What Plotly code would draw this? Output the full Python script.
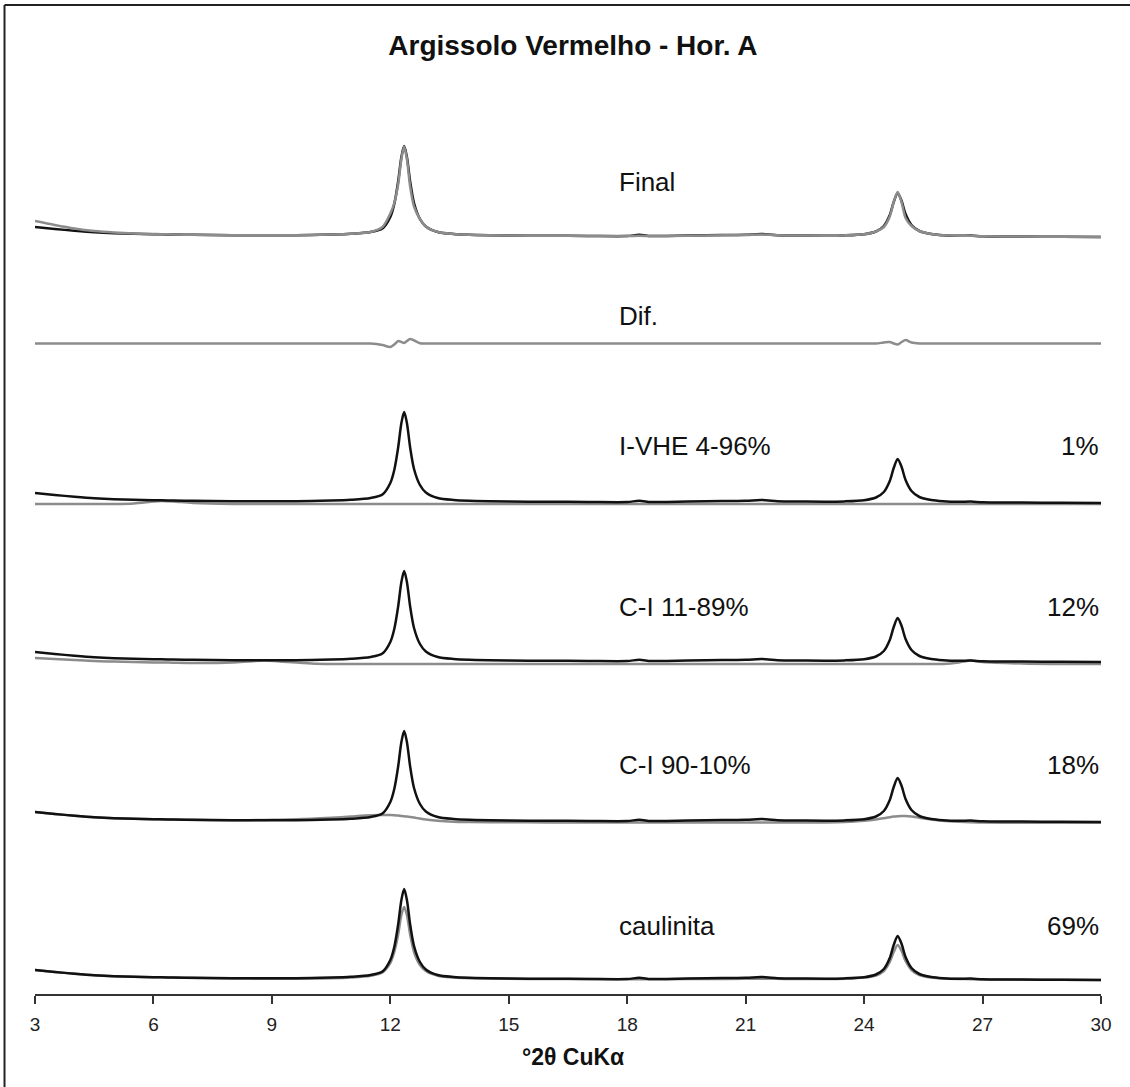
import plotly.graph_objects as go

# 2-theta grid (degrees, Cu K-alpha)
two_theta = [3, 3.5, 4, 4.5, 5, 5.5, 6, 6.2, 6.5, 7,
             8, 8.4, 8.8, 9.2, 10, 10.5, 11, 11.5, 11.8, 12.0,
             12.1, 12.2, 12.28, 12.35, 12.42, 12.5, 12.6, 12.75, 12.9, 13.2,
             13.6, 14, 15, 16, 17, 18, 18.3, 18.6, 19, 20,
             21, 21.4, 21.8, 22, 23, 23.5, 24, 24.3, 24.5, 24.65,
             24.75, 24.85, 24.95, 25.05, 25.2, 25.4, 25.7, 26, 26.4, 26.7,
             27, 28, 29, 30]

# observed pattern (relative intensity above background at 30 deg)
observed = [10, 8, 6.3, 4.8, 3.8, 3.2, 2.8, 2.7, 2.5, 2.2,
            1.8, 1.8, 1.8, 1.8, 2, 2.4, 3.2, 5, 8.5, 20,
            33, 56, 80, 91, 80, 56, 34, 18, 10.5, 5,
            3, 2.2, 1.5, 1.2, 1.1, 1, 2.2, 1, 1.1, 1.8,
            2.2, 3, 1.8, 1.6, 1.3, 1.6, 2.8, 5.5, 11, 22,
            35, 44, 36, 23, 12, 6, 3, 1.8, 1.2, 1.4,
            0.8, 0.4, 0.2, 0]

# calculated (fitted) pattern
calculated = [16, 12, 8.5, 6, 4.5, 3.5, 3, 2.8, 2.6, 2.2,
              1.8, 1.8, 1.8, 1.8, 2, 2.4, 3.2, 5, 10, 23.5,
              34, 53, 78, 90.5, 78, 51, 30.5, 18, 10.5, 5,
              3, 2.2, 1.5, 1.2, 1.1, 1, 1.2, 1, 1.1, 1.6,
              2, 2.4, 1.8, 1.6, 1.3, 1.6, 2.8, 5.5, 10, 20.5,
              35, 45, 34.5, 19, 11, 6, 3, 1.8, 1.2, 1.2,
              0.8, 0.4, 0.2, 0]

# difference curve
difference = [0, 0, 0, 0, 0, 0, 0, 0, 0, 0,
              0, 0, 0, 0, 0, 0, 0, 0, -1.5, -3.5,
              -1, 2.5, 1.5, 0.5, 2.5, 4.5, 3, 0.3, 0, 0,
              0, 0, 0, 0, 0, 0, 0, 0, 0, 0,
              0, 0, 0, 0, 0, 0, 0, 0, 1, 1.5,
              0, -1, 1.5, 3.5, 1, 0, 0, 0, 0, 0,
              0, 0, 0, 0]

# fitted phase contributions
i_vhe_4_96 = [-1, -1, -1, -1, -1, -0.5, 1.5, 2, 1.5, 0,
              -1, -1, -1, -1, -1, -1, -1, -1, -1, -1,
              -1, -1, -1, -1, -1, -1, -1, -1, -1, -1,
              -1, -1, -1, -1, -1, -1, -1, -1, -1, -1,
              -1, -1, -1, -1, -1, -1, -1, -1, -1, -1,
              -1, -1, -1, -1, -1, -1, -1, -1, -1, -1,
              -1, -1, -1, -1]

c_i_11_89 = [4, 3, 2, 1, 0.5, 0, -0.5, -0.5, -0.7, -1,
             -0.5, 0.5, 1.5, 0.5, -1.5, -2, -2, -2, -2, -2,
             -2, -2, -2, -2, -2, -2, -2, -2, -2, -2,
             -2, -2, -2, -2, -2, -2, -2, -2, -2, -2,
             -2, -2, -2, -2, -2, -2, -2, -2, -2, -2,
             -2, -2, -2, -2, -2, -2, -2, -2, -0.5, 1.5,
             0, -1.5, -2, -2]

c_i_90_10 = [10, 8, 6.3, 4.8, 3.8, 3.2, 2.7, 2.6, 2.4, 2,
             1.7, 1.8, 2, 2.3, 3.2, 4.2, 5.5, 6.7, 7, 6.9,
             6.7, 6.4, 6.1, 5.8, 5.4, 5, 4.4, 3.4, 2.5, 1.2,
             0.3, 0, -0.3, -0.4, -0.5, -0.5, -0.5, -0.5, -0.5, -0.5,
             -0.5, -0.5, -0.5, -0.5, -0.4, 0, 1.3, 2.6, 3.8, 4.8,
             5.4, 5.8, 6, 6, 5.5, 4.3, 2.5, 1.2, 0.2, -0.3,
             -0.5, -0.7, -0.8, -0.8]

caulinita = [10, 8, 6.3, 4.8, 3.8, 3.2, 2.8, 2.7, 2.4, 2,
             1.5, 1.4, 1.3, 1.3, 1.4, 1.7, 2.5, 4.2, 7.5, 17,
             28, 46, 65, 73, 65, 46, 28, 15, 9, 4.3,
             2.5, 1.8, 1.2, 1, 0.9, 0.8, 0.8, 0.8, 0.8, 1,
             1.2, 1.3, 1.2, 1.1, 1, 1.3, 2.4, 4.5, 9, 18,
             28, 35, 29, 19, 10, 5, 2.5, 1.5, 1, 0.8,
             0.6, 0.3, 0.2, 0]

# panel labels and fitted proportions
panel_names = ["Final", "Dif.", "I-VHE 4-96%", "C-I 11-89%", "C-I 90-10%", "caulinita"]
proportions = ["", "", "1%", "12%", "18%", "69%"]

x_ticks = [3, 6, 9, 12, 15, 18, 21, 24, 27, 30]

# vertical stacking of the panels
offsets = [757, 650.5, 491, 332, 172, 14]
label_y = [812, 678, 548, 387, 229, 68]

BLACK = "#111111"
GRAY = "#8c8c8c"
LW = 2.5
FONT = "Liberation Sans, Arial, sans-serif"


def shifted(values, off):
    return [v + off for v in values]


fig = go.Figure()
line_kw = dict(mode="lines", line_shape="spline", showlegend=False, hoverinfo="skip")

# Final: observed (black) and calculated (gray)
fig.add_trace(go.Scatter(x=two_theta, y=shifted(observed, offsets[0]),
                         line=dict(color=BLACK, width=LW, smoothing=0.8), **line_kw))
fig.add_trace(go.Scatter(x=two_theta, y=shifted(calculated, offsets[0]),
                         line=dict(color=GRAY, width=LW, smoothing=0.8), **line_kw))

# Difference
fig.add_trace(go.Scatter(x=two_theta, y=shifted(difference, offsets[1]),
                         line=dict(color=GRAY, width=LW, smoothing=0.8), **line_kw))

# Phase panels: component (gray) under the observed pattern (black)
components = [i_vhe_4_96, c_i_11_89, c_i_90_10, caulinita]
for comp, off in zip(components, offsets[2:]):
    fig.add_trace(go.Scatter(x=two_theta, y=shifted(comp, off),
                             line=dict(color=GRAY, width=LW, smoothing=0.8), **line_kw))
    fig.add_trace(go.Scatter(x=two_theta, y=shifted(observed, off),
                             line=dict(color=BLACK, width=LW, smoothing=0.8), **line_kw))

label_font = dict(family=FONT, size=26, color="#111111")
for name, pct, ly in zip(panel_names, proportions, label_y):
    fig.add_annotation(x=17.74, y=ly, text=name, showarrow=False,
                       xanchor="left", yanchor="middle", font=label_font)
    if pct:
        fig.add_annotation(x=30, y=ly, text=pct, showarrow=False,
                           xanchor="right", yanchor="middle", font=label_font)

# axis title
fig.add_annotation(xref="paper", yref="paper", x=0.5047, y=-0.0705,
                   text="<b>°2θ CuKα</b>", showarrow=False,
                   xanchor="center", yanchor="middle",
                   font=dict(family=FONT, size=23, color="#111111"))

# left and top edges of the frame
fig.add_shape(type="line", xref="paper", yref="paper",
              x0=-0.0286, x1=-0.0286, y0=-0.11, y1=1.1063,
              line=dict(color="#222222", width=2))
fig.add_shape(type="line", xref="paper", yref="paper",
              x0=-0.0286, x1=1.03, y0=1.1063, y1=1.1063,
              line=dict(color="#222222", width=2))

fig.update_layout(
    width=1130, height=1087,
    margin=dict(l=35, r=29, t=100, b=93),
    paper_bgcolor="white", plot_bgcolor="white",
    title=dict(text="<b>Argissolo Vermelho - Hor. A</b>", x=0.507, xanchor="center",
               y=1 - 45 / 1087, yanchor="middle",
               font=dict(family=FONT, size=28, color="#111111")),
    xaxis=dict(range=[3, 30], tickvals=x_ticks, ticks="outside", ticklen=8, tickwidth=1.5,
               tickcolor="#333333", showline=True, linecolor="#333333", linewidth=1.5,
               showgrid=False, zeroline=False, ticklabelstandoff=4,
               tickfont=dict(family=FONT, size=19, color="#222222")),
    yaxis=dict(range=[0, 894], visible=False, showgrid=False, zeroline=False),
)

fig.write_html("out.html")
